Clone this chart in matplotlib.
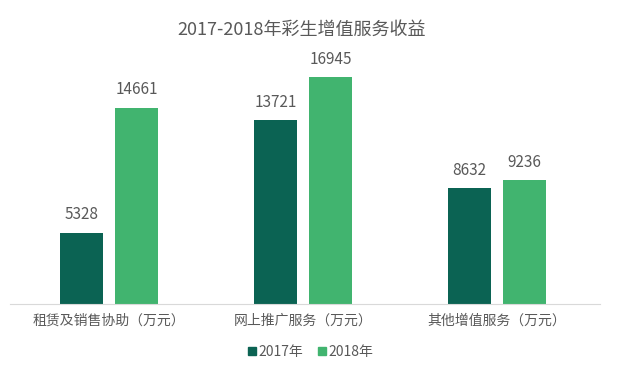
import numpy as np
import matplotlib
matplotlib.use("Agg")
import matplotlib.pyplot as plt
from matplotlib.lines import Line2D

plt.rcParams['font.family'] = ['Noto Sans CJK SC', 'DejaVu Sans']

categories = ['租赁及销售协助（万元）', '网上推广服务（万元）', '其他增值服务（万元）']
series_names = ['2017年', '2018年']
values_2017 = [5328, 13721, 8632]
values_2018 = [14661, 16945, 9236]

dark = '#0b6353'
light = '#41b46f'
text_color = '#595959'

fig = plt.figure(figsize=(6.2, 3.76), dpi=100)
ax = fig.add_axes([0.016, 0.1915, 0.952, 0.641])

x = np.arange(len(categories))
width = 0.222
off = 0.142
b1 = ax.bar(x - off, values_2017, width, color=dark)
b2 = ax.bar(x + off, values_2018, width, color=light)

for bars in (b1, b2):
    for b in bars:
        ax.text(b.get_x() + b.get_width() / 2, b.get_height() + 700,
                str(int(b.get_height())), ha='center', va='bottom',
                fontsize=11, color=text_color)

ax.set_xlim(-0.51, 2.531)
ax.set_ylim(0, 18000)
ax.set_xticks(x)
ax.set_xticklabels(categories, fontsize=10, color=text_color)
ax.tick_params(axis='x', length=0, pad=7)
ax.set_yticks([])
for s in ['top', 'right', 'left']:
    ax.spines[s].set_visible(False)
ax.spines['bottom'].set_color('#d9d9d9')

fig.text(0.487, 0.92, '2017-2018年彩生增值服务收益', ha='center', va='center',
         fontsize=13, color=text_color)

handles = [Line2D([], [], marker='s', linestyle='', color=dark, markersize=6),
           Line2D([], [], marker='s', linestyle='', color=light, markersize=6)]
fig.legend(handles, series_names, loc='center', bbox_to_anchor=(0.5, 0.063),
           ncol=2, frameon=False, fontsize=10, handletextpad=0.05,
           columnspacing=1.0, labelcolor=text_color, handlelength=0.8)

fig.savefig('out.png', dpi=100)
